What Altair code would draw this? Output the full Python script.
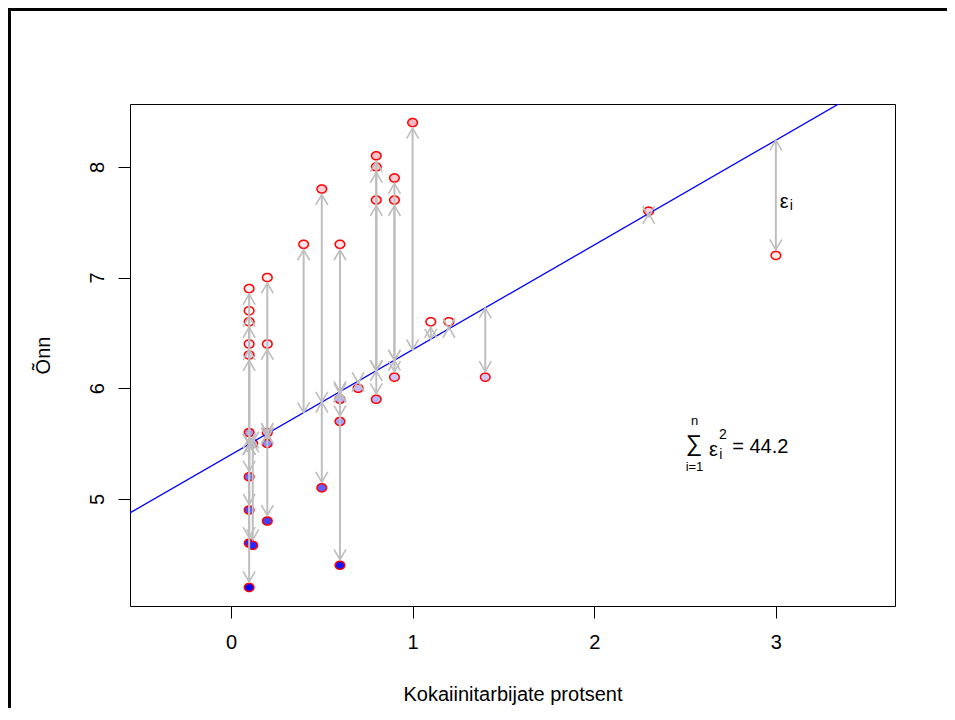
import altair as alt
import pandas as pd
import numpy as np

# ---- data ----
x_vals = [0.1, 0.1, 0.1, 0.1, 0.1, 0.1, 0.1, 0.1, 0.1, 0.1, 0.12, 0.12,
          0.2, 0.2, 0.2, 0.2, 0.2, 0.4, 0.5, 0.5, 0.6, 0.6, 0.6, 0.6, 0.7,
          0.8, 0.8, 0.8, 0.8, 0.9, 0.9, 0.9, 1.0, 1.1, 1.2, 1.4, 2.3, 3.0]
y_vals = [6.9, 6.7, 6.6, 6.4, 6.3, 5.6, 5.2, 4.9, 4.6, 4.2, 5.5, 4.58,
          7.0, 6.4, 5.6, 5.5, 4.8, 7.3, 7.8, 5.1, 7.3, 5.9, 5.7, 4.4, 6.0,
          8.1, 8.0, 7.7, 5.9, 7.9, 7.7, 6.1, 8.4, 6.6, 6.6, 6.1, 7.6, 7.2]
INTERCEPT = 5.40
SLOPE = 0.947
XLIM = [-0.4, 3.5]
YLIM = [4.2, 8.4]
x_ticks = [0, 1, 2, 3]
y_ticks = [5, 6, 7, 8]
x_title = "Kokaiinitarbijate protsent"
y_title = "Õnn"

ann_text = ["ε", "i", "∑", "n", "i=1", "ε", "2", "i", "= 44.2"]
ann_x = [3.046, 3.085, 2.549, 2.552, 2.552, 2.657, 2.708, 2.697, 2.914]
ann_y = [7.680, 7.644, 5.495, 5.700, 5.285, 5.442, 5.573, 5.397, 5.465]
ann_size = [20, 14, 23, 13, 13, 20, 14, 14, 20]

# ---- derived tables ----
def ext(lim):
    r = lim[1] - lim[0]
    return [lim[0] - 0.04 * r, lim[1] + 0.04 * r]

xdom = ext(XLIM)
ydom = ext(YLIM)

pts = pd.DataFrame({"x": x_vals, "y": y_vals})
pts["fit"] = INTERCEPT + SLOPE * pts["x"]
res = pts["y"] - pts["fit"]
sgn = np.where(res >= 0, 1.0, -1.0)
pts["yend"] = pts["y"] - 0.05 * sgn

heads = []
for _, r in pts.iterrows():
    if r["fit"] > r["yend"]:
        heads.append({"x": r["x"], "y": r["fit"], "d": "up"})
        heads.append({"x": r["x"], "y": r["yend"], "d": "down"})
    else:
        heads.append({"x": r["x"], "y": r["fit"], "d": "down"})
        heads.append({"x": r["x"], "y": r["yend"], "d": "up"})
heads = pd.DataFrame(heads)

line_df = pd.DataFrame({"x": xdom})
line_df["y"] = INTERCEPT + SLOPE * line_df["x"]

ann = pd.DataFrame({"x": ann_x, "y": ann_y, "t": ann_text, "fs": ann_size})

UP = "M -0.577 1 L 0 0 L 0.577 1"
DOWN = "M -0.577 -1 L 0 0 L 0.577 -1"
ang = np.linspace(0, 2 * np.pi, 33)[:-1]
ELLIPSE = "M " + " L ".join(f"{np.cos(a):.3f} {0.85*np.sin(a):.3f}" for a in ang) + " Z"

FONT = "Liberation Sans"
xs = alt.Scale(domain=xdom, nice=False, zero=False)
ys = alt.Scale(domain=ydom, nice=False, zero=False)
xaxis = alt.Axis(values=x_ticks, title=x_title, grid=False, domain=False,
                 tickSize=12, tickColor="black", tickWidth=1,
                 labelFont=FONT, labelFontSize=20, labelColor="black",
                 labelBaseline="alphabetic", labelPadding=30, labelFlush=False,
                 titleFont=FONT, titleFontSize=20, titleFontWeight="normal",
                 titleColor="black", titleX=382.5, titleY=94,
                 titleBaseline="alphabetic", titleAlign="center")
yaxis = alt.Axis(values=y_ticks, title=y_title, grid=False, domain=False,
                 tickSize=12, tickColor="black", tickWidth=1,
                 labelFont=FONT, labelFontSize=20, labelColor="black",
                 labelAngle=270, labelAlign="center", labelBaseline="alphabetic",
                 labelPadding=15, labelFlush=False,
                 titleFont=FONT, titleFontSize=20, titleFontWeight="normal",
                 titleColor="black", titleAngle=270, titleX=-81, titleY=251,
                 titleBaseline="alphabetic", titleAlign="center")

X = alt.X("x:Q", scale=xs, axis=xaxis)
one = pd.DataFrame({"a": [0]})

# white strip over the right edge of the drawing surface
edge_mask = alt.Chart(one).mark_rule(color="white", strokeWidth=4).encode(
    x=alt.value(815.5), y=alt.value(-96), y2=alt.value(604)
)
frame_top = alt.Chart(one).mark_rule(color="black", strokeWidth=3).encode(
    x=alt.value(-122), x2=alt.value(817), y=alt.value(-94.5)
)
frame_left = alt.Chart(one).mark_rule(color="black", strokeWidth=3).encode(
    x=alt.value(-120.5), y=alt.value(-96), y2=alt.value(604)
)

points = alt.Chart(pts).mark_point(
    filled=True, shape=ELLIPSE, size=92, stroke="red", strokeWidth=1.5, opacity=1
).encode(
    x=X,
    y=alt.Y("y:Q", scale=ys, axis=yaxis),
    color=alt.Color("y:Q", scale=alt.Scale(domain=[4.2, 6.6, 8.4],
                                           range=["#0000ff", "#ffffff", "#ffb6c1"],
                                           interpolate="rgb"), legend=None),
)

line = alt.Chart(line_df).mark_line(color="blue", strokeWidth=1.3, clip=True).encode(
    x=X, y=alt.Y("y:Q", scale=ys, axis=yaxis)
)

rules = alt.Chart(pts).mark_rule(color="#bebebe", strokeWidth=2).encode(
    x=X, y=alt.Y("fit:Q", scale=ys, axis=yaxis), y2="yend:Q"
)

arrowheads = alt.Chart(heads).mark_point(
    filled=False, size=433, strokeWidth=1.6, color="#bebebe", opacity=1
).encode(
    x=X, y=alt.Y("y:Q", scale=ys, axis=yaxis),
    shape=alt.Shape("d:N", scale=alt.Scale(domain=["up", "down"], range=[UP, DOWN]), legend=None),
)

texts = alt.Chart(ann).mark_text(font=FONT, color="black", align="center", baseline="middle").encode(
    x=X, y=alt.Y("y:Q", scale=ys, axis=yaxis), text="t:N",
    size=alt.Size("fs:Q", scale=None, legend=None),
)

chart = alt.layer(edge_mask, frame_top, frame_left, points, line, rules, arrowheads, texts).properties(
    width=765, height=502,
    autosize=alt.AutoSizeParams(type="none"),
    padding={"left": 122, "top": 96, "right": 52, "bottom": 106},
    background="white",
).configure_view(stroke="black", strokeWidth=1)

chart.save("out.html", embed_options={"renderer": "svg", "actions": False})
